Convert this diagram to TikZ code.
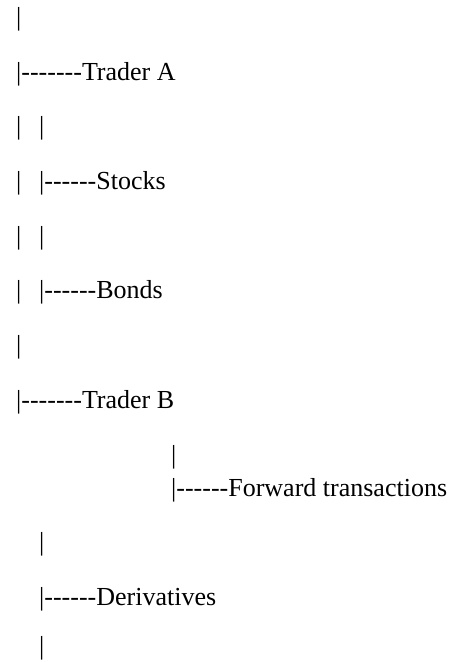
\documentclass[tikz,border=0pt]{standalone}
\usepackage{fontspec}
\setmainfont{Liberation Serif}
\usepackage{xcolor}
\usepackage{tikz}
\usetikzlibrary{
  positioning
}
\newcommand\treedashes[1]{\foreach \i in {1,...,#1}{-\kern0pt}}
\tikzset{
  treeline/.style={
    anchor=west,
    inner sep=0pt,
    text=black,
    font=\fontsize{26}{30}\selectfont
  }
}

\begin{document}
\begin{tikzpicture}[x=1pt,y=1pt]

  \useasboundingbox (0,0) rectangle (454,-662);

  % outer trunk
  \node[treeline] (trunktop) at (16,-19) {|};

  \node[treeline] (tradera) at (16,-74) {
    |\treedashes{7}Trader A
  };

  \node[treeline] (trunka) at (16,-128) {|};
  \node[treeline] (branchaa) at (39,-128) {|};

  \node[treeline] (trunkb) at (16,-183) {|};
  \node[treeline] (stocks) at (39,-183) {
    |\treedashes{6}Stocks
  };

  \node[treeline] (trunkc) at (16,-238) {|};
  \node[treeline] (branchab) at (39,-238) {|};

  \node[treeline] (trunkd) at (16,-292) {|};
  \node[treeline] (bonds) at (39,-292) {
    |\treedashes{6}Bonds
  };

  \node[treeline] (trunke) at (16,-347) {|};

  \node[treeline] (traderb) at (16,-402) {
    |\treedashes{7}Trader B
  };

  % branches of trader B
  \node[treeline] (branchba) at (171,-457) {|};
  \node[treeline] (forward) at (171,-490) {
    |\treedashes{6}Forward transactions
  };

  \node[treeline] (branchbb) at (39,-544) {|};
  \node[treeline] (derivatives) at (39,-599) {
    |\treedashes{6}Derivatives
  };

  \node[treeline] (branchbc) at (39,-648) {|};

\end{tikzpicture}
\end{document}
